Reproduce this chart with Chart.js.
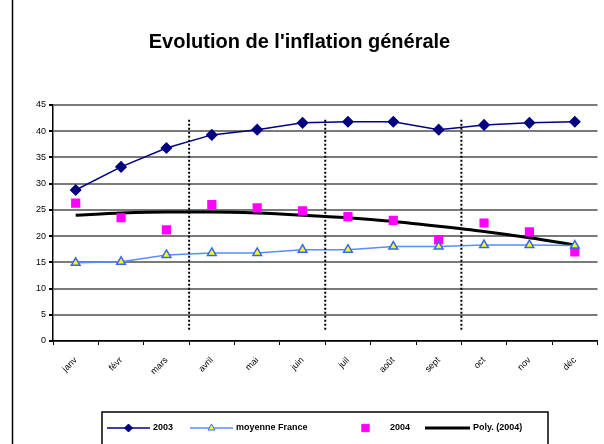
<html lang="fr">
  <head>
    <meta charset="UTF-8" />
    <script src="https://cdn.jsdelivr.net/npm/chart.js"></script>
    <title>Evolution de l'inflation générale</title>
    <style>
      body { margin: 0; background: #fff; }
      #wrap { width: 604px; height: 444px; }
    </style>
  </head>
  <body>
    <div id="wrap"><canvas id="inflationCanvas" width="604" height="444"></canvas></div>
    <script>
      // months
      const months = ["janv", "févr", "mars", "avril", "mai", "juin", "juil", "août", "sept", "oct", "nov", "déc"];
      const yTicks = [0, 5, 10, 15, 20, 25, 30, 35, 40, 45];

      // series
      const serie2003 = [28.8, 33.2, 36.8, 39.3, 40.3, 41.6, 41.8, 41.8, 40.3, 41.2, 41.6, 41.8];
      const moyenneFrance = [14.9, 15.1, 16.4, 16.8, 16.8, 17.4, 17.4, 18.0, 18.0, 18.3, 18.3, 18.2];
      const serie2004 = [26.3, 23.5, 21.2, 26.0, 25.4, 24.8, 23.7, 23.0, 19.3, 22.5, 20.8, 17.0];
      const poly2004 = [24.0, 24.4, 24.6, 24.6, 24.4, 24.0, 23.5, 22.8, 21.9, 20.9, 19.7, 18.3];

      const labels2003 = "2003";
      const labelMoy = "moyenne France";
      const labels2004 = "2004";
      const labelPoly = "Poly. (2004)";

      // quarter separators (between these category indexes)
      const separators = [2.5, 5.5, 8.5];

      const FONT = "'Liberation Sans', Arial, sans-serif";

      // dotted vertical lines
      const separatorPlugin = {
        id: "separators",
        afterDatasetsDraw(chart) {
          const ctx = chart.ctx;
          const x = chart.scales.x;
          const y = chart.scales.y;
          ctx.save();
          ctx.strokeStyle = "#000";
          ctx.lineWidth = 2;
          ctx.setLineDash([2, 2]);
          separators.forEach((s) => {
            const px = (x.getPixelForValue(Math.floor(s)) + x.getPixelForValue(Math.ceil(s))) / 2;
            ctx.beginPath();
            ctx.moveTo(px, y.getPixelForValue(42.2));
            ctx.lineTo(px, y.getPixelForValue(2));
            ctx.stroke();
          });
          ctx.restore();
        },
      };

      // excel-like legend box + outer frame
      const legendPlugin = {
        id: "excelLegend",
        afterDraw(chart) {
          const ctx = chart.ctx;
          ctx.save();
          // left frame line
          ctx.strokeStyle = "#000";
          ctx.lineWidth = 1.5;
          ctx.beginPath();
          ctx.moveTo(12.5, 0);
          ctx.lineTo(12.5, 444);
          ctx.stroke();

          // legend box
          ctx.lineWidth = 1.5;
          ctx.strokeRect(102, 412, 446, 36);

          const yy = 428;
          ctx.font = "bold 9px " + FONT;
          ctx.fillStyle = "#000";
          ctx.textBaseline = "middle";

          const items = [
            { ds: 0, x1: 107, x2: 150, tx: 153 },
            { ds: 1, x1: 190, x2: 233, tx: 236 },
            { ds: 2, x1: 345, x2: 386, tx: 390 },
            { ds: 3, x1: 425, x2: 470, tx: 473 },
          ];
          items.forEach((it) => {
            const ds = chart.data.datasets[it.ds];
            if (ds.showLine !== false) {
              ctx.strokeStyle = ds.borderColor;
              ctx.lineWidth = ds.borderWidth;
              ctx.beginPath();
              ctx.moveTo(it.x1, yy);
              ctx.lineTo(it.x2, yy);
              ctx.stroke();
            }
            if (ds.pointRadius > 0) {
              ctx.fillStyle = ds.pointBackgroundColor;
              ctx.strokeStyle = ds.pointBorderColor;
              ctx.lineWidth = 1;
              Chart.helpers.drawPoint(ctx, {
                pointStyle: ds.pointStyle,
                radius: ds.pointRadius * 0.8,
                borderWidth: 1,
                rotation: 0,
              }, (it.x1 + it.x2) / 2, yy);
            }
            ctx.fillStyle = "#000";
            ctx.fillText(ds.label, it.tx, yy);
          });
          ctx.restore();
        },
      };

      const ctx = document.getElementById("inflationCanvas").getContext("2d");
      new Chart(ctx, {
        type: "line",
        data: {
          labels: months,
          datasets: [
            {
              label: labels2003,
              data: serie2003,
              borderColor: "#000080",
              borderWidth: 1.5,
              pointStyle: "rectRot",
              pointRadius: 5,
              pointBackgroundColor: "#000080",
              pointBorderColor: "#000080",
              tension: 0,
            },
            {
              label: labelMoy,
              data: moyenneFrance,
              borderColor: "#5b8cff",
              borderWidth: 1.5,
              pointStyle: "triangle",
              pointRadius: 5,
              pointBackgroundColor: "#ffff00",
              pointBorderColor: "#3366ff",
              tension: 0,
            },
            {
              label: labels2004,
              data: serie2004,
              showLine: false,
              borderColor: "#ff00ff",
              borderWidth: 0,
              pointStyle: "rect",
              pointRadius: 6.5,
              pointBackgroundColor: "#ff00ff",
              pointBorderColor: "#ff00ff",
            },
            {
              label: labelPoly,
              data: poly2004,
              borderColor: "#000",
              borderWidth: 3,
              pointRadius: 0,
              cubicInterpolationMode: "monotone",
            },
          ],
        },
        options: {
          responsive: false,
          animation: false,
          layout: { padding: { left: 0, right: 5, top: 0, bottom: 43 } },
          plugins: {
            legend: { display: false },
            tooltip: { enabled: false },
            title: {
              display: true,
              text: "Evolution de l'inflation générale",
              color: "#000",
              font: { family: FONT, size: 20, weight: "bold" },
              padding: { top: 30, bottom: 51 },
            },
          },
          scales: {
            x: {
              offset: true,
              afterFit: (s) => { s.height = 60; },
              grid: {
                offset: true,
                drawOnChartArea: false,
                tickLength: 4,
                color: "#000",
              },
              border: { color: "#000", width: 1.5 },
              ticks: {
                minRotation: 45,
                maxRotation: 45,
                padding: 10,
                color: "#000",
                font: { family: FONT, size: 9 },
              },
            },
            y: {
              min: 0,
              max: 45,
              afterFit: (s) => { s.width = 53; },
              afterBuildTicks: (s) => { s.ticks = yTicks.map((v) => ({ value: v })); },
              grid: { color: "#7a7a7a", lineWidth: 2, tickLength: 4, tickColor: "#000" },
              border: { color: "#000", width: 1.5 },
              ticks: {
                color: "#000",
                padding: 3,
                font: { family: FONT, size: 9 },
              },
            },
          },
        },
        plugins: [separatorPlugin, legendPlugin],
      });
    </script>
  </body>
</html>
